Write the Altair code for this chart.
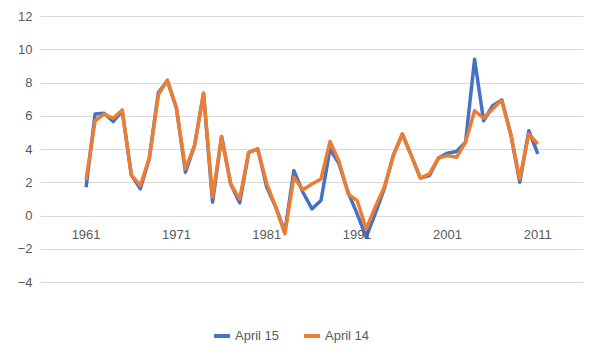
import altair as alt
import pandas as pd

years = [1961, 1962, 1963, 1964, 1965, 1966, 1967, 1968, 1969, 1970,
         1971, 1972, 1973, 1974, 1975, 1976, 1977, 1978, 1979, 1980,
         1981, 1982, 1983, 1984, 1985, 1986, 1987, 1988, 1989, 1990,
         1991, 1992, 1993, 1994, 1995, 1996, 1997, 1998, 1999, 2000,
         2001, 2002, 2003, 2004, 2005, 2006, 2007, 2008, 2009, 2010, 2011]

april15 = [1.7, 6.1, 6.15, 5.65, 6.3, 2.45, 1.6, 3.45, 7.4, 8.1,
           6.45, 2.6, 4.2, 7.35, 0.8, 4.75, 1.9, 0.76, 3.8, 4.0,
           1.7, 0.5, -1.0, 2.7, 1.4, 0.4, 0.9, 4.0, 3.1, 1.4,
           0.1, -1.3, 0.1, 1.6, 3.6, 4.9, 3.6, 2.25, 2.4, 3.45,
           3.75, 3.85, 4.4, 9.4, 5.7, 6.6, 6.95, 4.9, 2.0, 5.1, 3.7]

april14 = [2.15, 5.7, 6.1, 5.85, 6.35, 2.45, 1.8, 3.45, 7.25, 8.15,
           6.45, 2.8, 4.2, 7.35, 1.1, 4.75, 1.9, 1.0, 3.8, 4.0,
           1.9, 0.5, -1.1, 2.3, 1.55, 1.9, 2.2, 4.45, 3.25, 1.3,
           0.9, -0.8, 0.5, 1.7, 3.6, 4.9, 3.6, 2.25, 2.5, 3.45,
           3.6, 3.5, 4.4, 6.3, 5.85, 6.4, 6.95, 4.9, 2.2, 4.9, 4.3]

series_names = ["April 15", "April 14"]
series_colors = ["#4472C4", "#ED7D31"]
year_labels = [1961, 1971, 1981, 1991, 2001, 2011]
y_ticks = [-4, -2, 0, 2, 4, 6, 8, 10, 12]

rows = []
for name, vals in zip(series_names, [april15, april14]):
    for yr, v in zip(years, vals):
        rows.append({"year": yr, "value": v, "series": name})
df = pd.DataFrame(rows)
lab_df = pd.DataFrame({"year": year_labels, "value": [0] * len(year_labels)})

x_scale = alt.Scale(domain=[1955.9, 2016.0], nice=False, zero=False)
y_scale = alt.Scale(domain=[-4, 12], nice=False)
color_scale = alt.Scale(domain=series_names, range=series_colors)

y_axis = alt.Axis(values=y_ticks, grid=True, domain=False, ticks=False,
                  labelPadding=8, title=None, gridColor="#D9D9D9",
                  gridWidth=1, labelColor="#595959", labelFontSize=13,
                  labelFont="Liberation Sans")

legend = alt.Legend(title=None, orient="none", direction="horizontal",
                    legendX=172, legendY=310, symbolType="stroke",
                    symbolStrokeWidth=4, symbolSize=256,
                    labelFontSize=13, labelColor="#595959",
                    labelFont="Liberation Sans", columnPadding=16,
                    symbolOffset=0, labelOffset=3)

base = alt.Chart(df)

def series_layer(name):
    return base.transform_filter(alt.datum.series == name).mark_line(
        strokeWidth=3.5, strokeJoin="round", strokeCap="butt"
    ).encode(
        x=alt.X("year:Q", scale=x_scale, axis=None),
        y=alt.Y("value:Q", scale=y_scale, axis=y_axis),
        color=alt.Color("series:N", scale=color_scale, legend=legend),
    )

labels = alt.Chart(lab_df).mark_text(
    baseline="middle", align="center", dy=19, fontSize=13,
    font="Liberation Sans", color="#595959"
).encode(
    x=alt.X("year:Q", scale=x_scale, axis=None),
    y=alt.Y("value:Q", scale=y_scale, axis=y_axis),
    text=alt.Text("year:Q", format="d"),
)

chart = alt.layer(
    series_layer("April 15"),
    series_layer("April 14"),
    labels,
).properties(
    width=543, height=266,
    autosize=alt.AutoSizeParams(type="none"),
    padding={"left": 32, "top": 8, "right": 9, "bottom": 70},
    background="white",
).configure_view(stroke=None)

chart.save("out.html", embed_options={"renderer": "svg", "actions": False})
